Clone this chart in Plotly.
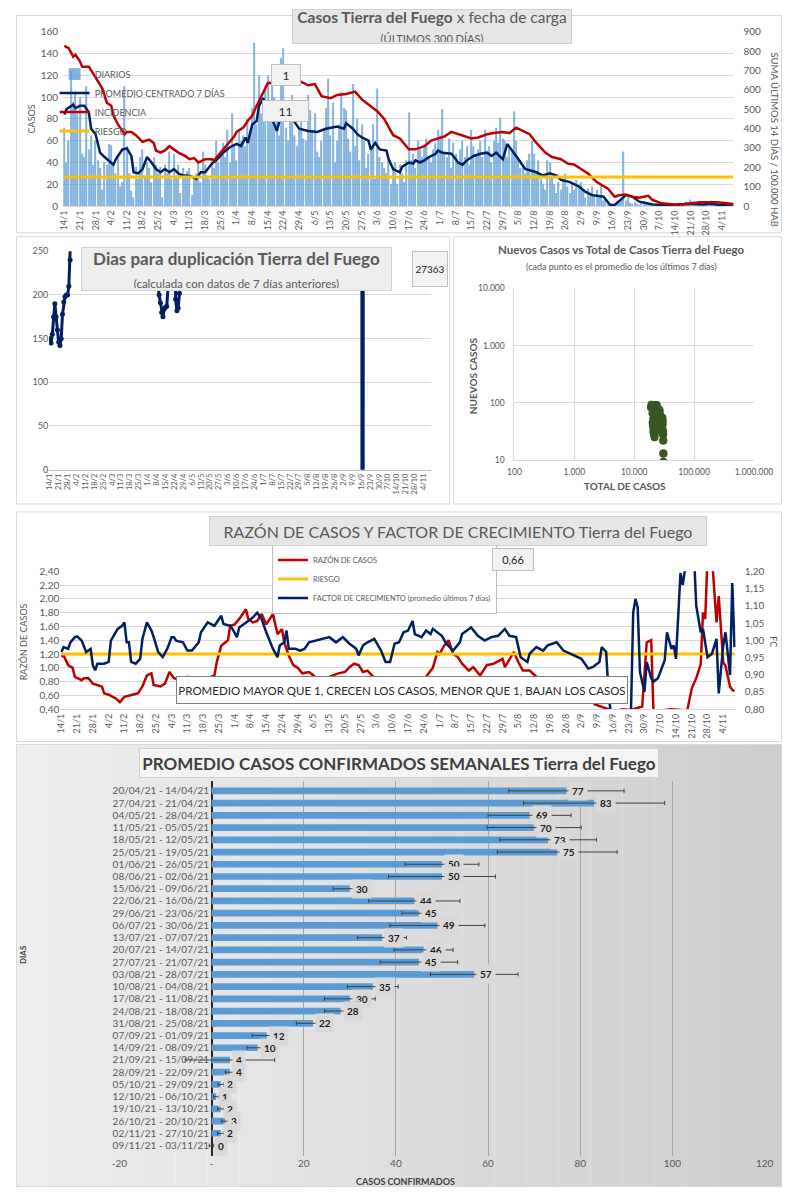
import plotly.graph_objects as go
from datetime import date, timedelta

# The page keeps the browser's 8px body margin, so the figure is 16px smaller
# than the 809x1200 window and every reference pixel is mapped with that offset.
OFF = 8
FW, FH = 809 - 2 * OFF, 1200 - 2 * OFF
def px(x): return (x - OFF) / FW
def py(y): return 1 - (y - OFF) / FH

INICIO = date(2021, 1, 14)
def fecha(d): return None if d is None else (INICIO + timedelta(days=d)).isoformat()

# ---------------- DATA ----------------
# Panel 1: daily cases (300 days from 14/1/2021)
diarios = [
    72, 40, 60, 124, 96, 105, 85,
    100, 48, 45, 110, 52, 65, 38,
    60, 42, 35, 15, 40, 38, 57,
    56, 38, 30, 45, 18, 22, 110,
    55, 30, 14, 8, 36, 25, 45,
    52, 28, 40, 35, 22, 45, 38,
    30, 36, 8, 38, 30, 50, 25,
    48, 28, 38, 12, 35, 28, 32,
    35, 10, 25, 30, 40, 22, 50,
    38, 28, 25, 44, 35, 60, 40,
    50, 58, 45, 70, 40, 85, 55,
    42, 70, 60, 65, 55, 80, 68,
    90, 150, 75, 120, 85, 100, 110,
    120, 80, 115, 100, 90, 65, 136,
    145, 72, 60, 88, 102, 65, 55,
    70, 85, 62, 60, 102, 88, 70,
    85, 50, 45, 60, 72, 90, 117,
    65, 95, 40, 60, 75, 105, 90,
    88, 62, 50, 112, 55, 80, 42,
    75, 60, 35, 48, 52, 75, 25,
    108, 45, 40, 35, 30, 42, 20,
    35, 40, 20, 38, 30, 22, 42,
    86, 42, 48, 35, 60, 52, 45,
    55, 62, 45, 40, 52, 58, 70,
    65, 89, 50, 45, 62, 35, 58,
    48, 40, 52, 60, 45, 55, 38,
    70, 55, 48, 52, 60, 45, 70,
    48, 55, 40, 60, 72, 58, 81,
    62, 60, 45, 55, 50, 87, 60,
    45, 35, 38, 30, 42, 48, 60,
    48, 30, 42, 25, 20, 15, 42,
    40, 28, 20, 12, 22, 15, 25,
    30, 18, 12, 22, 15, 24, 20,
    22, 14, 8, 16, 12, 18, 10,
    15, 8, 20, 5, 6, 3, 2,
    1, 0, 4, 3, 6, 50, 5,
    8, 3, 2, 4, 2, 1, 3,
    5, 2, 1, 3, 1, 0, 2,
    1, 0, 2, 1, 0, 1, 2,
    0, 1, 3, 2, 1, 4, 2,
    6, 3, 2, 1, 3, 2, 4,
    3, 2, 5, 2, 1, 2, 3,
    2, 1, 3, 2, 1, 0,
]

prom_dias = [0, 1, 4, 5, 7, 9, 11, 12, 14, 16, 18, 21, 22, 23, 24, 26, 28, 30, 31, 33, 35, 37, 39,
             41, 43, 45, 47, 49, 51, 53, 55, 57, 59, 61, 63, 66, 68, 71, 74, 77, 79, 81, 82, 84, 86,
             87, 89, 90, 92, 95, 97, 99, 102, 105, 109, 113, 117, 119, 122, 125, 126, 129, 131, 133,
             136, 137, 139, 141, 144, 145, 147, 150, 151, 154, 156, 157, 159, 161, 163, 166, 167, 169,
             172, 173, 175, 176, 178, 180, 183, 186, 189, 191, 193, 196, 198, 201, 203, 206, 208, 211,
             214, 217, 220, 222, 226, 230, 233, 236, 238, 241, 244, 246, 249, 251, 254, 257, 263, 267,
             273, 280, 285, 289, 293, 299]
prom_vals = [84, 89, 93, 90, 92, 92, 86, 71, 66, 49, 45, 40, 38, 43, 46, 52, 53, 46, 31, 30, 34, 45, 40,
             34, 31, 34, 31, 34, 30, 28, 28, 27, 25, 31, 31, 39, 42, 49, 54, 57, 55, 63, 58, 75, 78,
             92, 99, 92, 85, 69, 84, 88, 80, 71, 69, 68, 71, 72, 73, 71, 76, 71, 66, 63,
             60, 52, 58, 52, 51, 43, 34, 31, 36, 40, 39, 42, 40, 42, 45, 48, 51, 49,
             48, 48, 43, 40, 38, 42, 46, 48, 49, 46, 49, 43, 57, 49, 43, 34, 33, 31,
             28, 30, 28, 24, 22, 18, 13, 10, 9.4, 8.5, 1, 1, 6.4, 10, 8.5, 4, 1.5, 1,
             1, 2, 1.5, 2, 1, 1.5]

inc_dias = [0, 2, 4, 5, 7, 8, 11, 14, 17, 19, 21, 22, 24, 27, 28, 30, 32, 35, 38, 40, 41, 43, 45, 47,
            49, 51, 54, 56, 58, 60, 63, 66, 67, 70, 73, 76, 77, 80, 82, 84, 86, 89, 91, 94, 97, 101,
            105, 109, 112, 115, 119, 122, 126, 130, 133, 137, 140, 143, 147, 150, 154, 157, 161, 164,
            168, 170, 173, 176, 179, 182, 185, 189, 192, 196, 199, 202, 204, 208, 211, 215, 218, 222,
            225, 228, 231, 234, 238, 243, 246, 248, 251, 254, 257, 261, 263, 267, 273, 277, 284, 292, 299]
inc_vals = [827, 816, 771, 782, 748, 720, 720, 664, 608, 534, 518, 467, 422, 371, 383, 383, 366, 332, 343,
            326, 287, 276, 287, 309, 293, 276, 259, 242, 248, 225, 242, 242, 236, 276, 321, 360, 383, 405,
            439, 467, 518, 591, 636, 636, 664, 698, 647, 624, 630, 568, 557, 574, 579, 591, 551, 518, 489,
            450, 366, 349, 293, 293, 309, 338, 354, 360, 383, 371, 360, 349, 354, 371, 377, 383, 377, 405,
            394, 371, 326, 276, 253, 242, 219, 214, 191, 169, 124, 90, 48, 56, 60, 48, 43, 53, 31, 14, 8,
            10, 19, 19, 10]
RIESGO_INC = 150

# Panel 2: doubling days (None = break in the line)
dup_dias = [0, 1, 2, 3, 4, 5, 6, 7, 8, 9, 10, 11, 12, 13, 14, 15, 16, 17, None, 27, 28, 29, None,
            84, 85, 86, 87, 88, 89, 90, 91, 92, 93, 94, None, 98, 99, 100, 101, 102, 103, None,
            245, 246, 247]
dup_vals = [150, 145, 155, 175, 190, 175, 160, 146, 142, 150, 178, 192, 198, 200, 200, 210, 240, 290, None,
            300, 246, 275, None, 320, 215, 200, 191, 180, 175, 184, 186, 187, 208, 270, None,
            300, 195, 182, 185, 202, 280, None, 3000, -3000, 3000]
DUP_ULTIMO = "27363"

# Panel 3: new cases (7-day avg) vs total cases
tot_casos = [19000, 19400, 19630, 19900, 20150, 20300, 20450, 20600, 20780, 20900, 21050, 21200, 21330,
             21450, 21560, 21660, 21760, 21850, 21960, 22100, 22250, 22450, 22640, 22880, 23150, 23450,
             23770, 24050, 24350, 24600, 24850, 25080, 25330, 25580, 25820, 26080, 26330, 26560, 26790,
             26980, 27170, 27300, 27430, 27580, 27720, 27870, 28020, 28180, 28350, 28500, 28660, 28820,
             28980, 29150, 29320, 29490, 29660, 29810, 29960, 30070, 30180, 30280, 30370, 30450, 30540,
             30600, 30660, 30700, 30730]
nuevos = [84, 93, 92, 86, 66, 45, 40, 46, 53, 31, 34, 40, 34, 34, 34, 28, 27, 25, 31, 39, 49, 54, 57, 63,
          75, 92, 92, 69, 80, 80, 71, 69, 68, 71, 72, 73, 76, 71, 63, 60, 52, 51, 33, 36, 40, 42, 42, 45,
          49, 48, 43, 38, 46, 48, 49, 49, 55, 49, 43, 34, 31, 28, 29, 28, 22, 22, 13, 13, 9.4]

# Panel 4: case ratio and growth factor
raz_dias = [0, 1, 3, 5, 6, 9, 10, 12, 14, 16, 18, 19, 21, 24, 26, 28, 31, 34, 36, 38, 40, 41, 44, 46, 48,
            50, 53, 56, 58, 61, 63, 65, 68, 69, 71, 74, 75, 77, 79, 82, 83, 85, 87, 89, 91, 94, 96, 98,
            99, 101, 103, 105, 107, 110, 112, 114, 116, 119, 123, 126, 128, 130, 132, 134, 136, 139, 142,
            145, 147, 150, 154, 157, 159, 162, 165, 167, 168, 170, 172, 174, 176, 178, 181, 183, 186, 189,
            192, 196, 197, 201, 203, 205, 208, 211, 213, 215, 218, 223, 226, 229, 233, 237, 243, 246, 249,
            253, 258, 260, 262, 263, 271, 278, 280, 282, 284, 285, 286, 287, 289, 291, 292, 294, 295, 297,
            298, 299]
raz_vals = [1.16, 1.18, 1.04, 1.0, 0.87, 0.82, 0.85, 0.85, 0.77, 0.75, 0.73, 0.63, 0.61, 0.56, 0.50, 0.58,
            0.60, 0.63, 0.73, 0.89, 0.92, 0.75, 0.73, 0.77, 0.94, 0.85, 0.82, 0.87, 0.85, 0.85, 0.72, 0.85,
            0.89, 1.08, 1.32, 1.40, 1.61, 1.63, 1.71, 1.85, 1.71, 1.66, 1.68, 1.78, 1.63, 1.78, 1.49, 1.56,
            1.37, 1.18, 1.04, 1.0, 0.92, 0.94, 0.89, 0.80, 0.82, 0.87, 0.92, 0.94, 1.01, 1.06, 1.04, 0.94,
            0.96, 0.85, 0.75, 0.68, 0.65, 0.61, 0.62, 0.61, 0.70, 0.87, 1.0, 1.23, 1.20, 1.32, 1.40, 1.20,
            1.16, 1.06, 0.96, 1.01, 0.89, 1.04, 1.06, 1.13, 1.01, 1.23, 1.08, 0.96, 0.96, 0.87, 0.85, 0.68,
            0.63, 0.68, 0.77, 0.75, 0.65, 0.47, 0.40, 0.36, 0.40, 0.39, 0.44, 1.37, 1.40, 0.37, 0.40, 0.38,
            0.70, 0.85, 1.05, 1.80, 1.71, 2.60, 2.60, 1.66, 2.04, 1.08, 1.03, 0.73, 0.68, 0.66]
RIESGO_RAZON = 1.2
RAZON_ULTIMA = "0,66"

fc_dias = [0, 1, 3, 4, 6, 7, 9, 10, 11, 13, 14, 15, 16, 19, 21, 22, 24, 25, 27, 28, 29, 30, 31, 33, 35,
           36, 38, 40, 41, 43, 45, 47, 49, 50, 51, 54, 56, 58, 61, 62, 65, 68, 71, 72, 75, 76, 78, 79,
           83, 85, 87, 89, 91, 94, 96, 97, 99, 100, 101, 104, 106, 108, 110, 113, 116, 119, 122, 125,
           128, 131, 132, 134, 136, 139, 142, 144, 146, 148, 150, 152, 154, 156, 157, 160, 162, 164, 165,
           169, 171, 174, 177, 178, 182, 185, 188, 191, 194, 197, 199, 202, 204, 207, 208, 211, 214, 216,
           220, 223, 226, 231, 234, 236, 239, 240, 242, 243, 244, 247, 250, 253, 254, 255, 256, 257, 259,
           260, 262, 263, 265, 268, 269, 271, 272, 273, 275, 276, 278, 281, 282, 284, 285, 287, 289, 291,
           292, 294, 295, 297, 298, 299]
fc_vals = [0.966, 0.98, 0.975, 0.994, 1.009, 1.011, 0.999, 0.98, 0.966, 0.975, 0.927, 0.913, 0.932, 0.932,
           0.937, 0.999, 1.023, 1.033, 1.042, 1.052, 0.994, 0.994, 0.937, 0.932, 0.946, 1.004, 1.052, 1.028,
           1.009, 0.966, 0.951, 0.975, 1.009, 1.009, 0.999, 0.994, 0.97, 0.97, 0.994, 1.023, 1.052, 1.042,
           1.071, 1.047, 1.042, 1.033, 1.009, 1.037, 1.056, 1.066, 1.08, 1.061, 1.023, 0.975, 0.951, 0.985,
           0.994, 1.028, 0.975, 0.975, 0.97, 0.975, 0.994, 0.999, 1.004, 1.009, 0.994, 1.009, 0.99, 0.975,
           0.956, 0.985, 0.994, 1.004, 0.97, 0.937, 0.937, 0.99, 0.994, 1.023, 1.028, 1.056, 1.018, 1.009,
           1.028, 1.018, 1.033, 1.013, 0.99, 0.97, 0.994, 1.018, 1.037, 1.013, 0.999, 1.009, 1.013, 1.033,
           1.013, 1.009, 0.951, 0.937, 0.961, 0.98, 0.97, 0.985, 0.994, 0.97, 0.961, 0.946, 0.918, 0.922,
           0.937, 0.98, 0.966, 0.85, 0.79, 0.72, 0.72, 0.79, 1.08, 1.12, 1.095, 0.908, 0.85, 0.937, 0.89,
           0.88, 0.89, 0.942, 1.023, 0.975, 0.985, 0.946, 1.195, 1.16, 1.25, 1.25, 1.10, 1.023, 1.033,
           0.951, 0.961, 1.004, 0.846, 0.985, 1.023, 0.899, 1.166, 0.98]

# Panel 5: weekly averages
semanas = ["20/04/21 - 14/04/21", "27/04/21 - 21/04/21", "04/05/21 - 28/04/21", "11/05/21 - 05/05/21",
           "18/05/21 - 12/05/21", "25/05/21 - 19/05/21", "01/06/21 - 26/05/21", "08/06/21 - 02/06/21",
           "15/06/21 - 09/06/21", "22/06/21 - 16/06/21", "29/06/21 - 23/06/21", "06/07/21 - 30/06/21",
           "13/07/21 - 07/07/21", "20/07/21 - 14/07/21", "27/07/21 - 21/07/21", "03/08/21 - 28/07/21",
           "10/08/21 - 04/08/21", "17/08/21 - 11/08/21", "24/08/21 - 18/08/21", "31/08/21 - 25/08/21",
           "07/09/21 - 01/09/21", "14/09/21 - 08/09/21", "21/09/21 - 15/09/21", "28/09/21 - 22/09/21",
           "05/10/21 - 29/09/21", "12/10/21 - 06/10/21", "19/10/21 - 13/10/21", "26/10/21 - 20/10/21",
           "02/11/21 - 27/10/21", "09/11/21 - 03/11/21"]
prom_sem = [77, 83, 69, 70, 73, 75, 50, 50, 30, 44, 45, 49, 37, 46, 45, 57, 35, 30, 28, 22, 12, 10, 4, 4,
            2, 1, 2, 3, 2, 0]
desvio_sem = [12.5, 15.3, 9, 10.2, 10.5, 13, 8, 11.6, 3.6, 9.9, 3.7, 10.3, 5.3, 6.4, 8.4, 9.5, 5.5, 5.5,
              3.5, 3.6, 3.2, 2.3, 9.7, 1, 0.6, 0.6, 0.7, 0.8, 0.7, 0.5]
x7_ticks = [-20, 0, 20, 40, 60, 80, 100, 120]
x7_text = ["-20", "-", "20", "40", "60", "80", "100", "120"]

# ---------------- STYLE ----------------
NAVY = "#002060"; RED = "#c00000"; YELLOW = "#ffc000"; BLUE = "#5b9bd5"
GREEN = "#375623"; GRID = "#d9d9d9"; TXT = "#595959"; FONT = "Lato"
DAY_MS = 86400000

fig = go.Figure()

# Panel 1
fig.add_trace(go.Bar(x=[fecha(i) for i in range(len(diarios))], y=diarios, name="DIARIOS",
                     marker=dict(color=BLUE, line=dict(width=0)), opacity=0.75,
                     xaxis="x", yaxis="y", legend="legend"))
fig.add_trace(go.Scatter(x=[fecha(d) for d in prom_dias], y=prom_vals, name="PROMEDIO CENTRADO 7 DÍAS",
                         mode="lines", line=dict(color=NAVY, width=2.5), xaxis="x", yaxis="y", legend="legend"))
fig.add_trace(go.Scatter(x=[fecha(d) for d in inc_dias], y=inc_vals, name="INCIDENCIA",
                         mode="lines", line=dict(color=RED, width=2.5), xaxis="x", yaxis="y2", legend="legend"))
fig.add_trace(go.Scatter(x=[fecha(0), fecha(len(diarios) - 1)], y=[RIESGO_INC, RIESGO_INC], name="RIESGO",
                         mode="lines", line=dict(color=YELLOW, width=3), xaxis="x", yaxis="y2", legend="legend"))

# Panel 2
fig.add_trace(go.Scatter(x=[fecha(d) for d in dup_dias], y=dup_vals, mode="lines+markers",
                         line=dict(color=NAVY, width=3), marker=dict(color=NAVY, size=5),
                         connectgaps=False, xaxis="x3", yaxis="y3", showlegend=False))

# Panel 3
fig.add_trace(go.Scatter(x=tot_casos, y=nuevos, mode="markers",
                         marker=dict(color=GREEN, size=8, line=dict(width=0)),
                         xaxis="x4", yaxis="y4", showlegend=False))

# Panel 4
fig.add_trace(go.Scatter(x=[fecha(d) for d in raz_dias], y=raz_vals, name="RAZÓN DE CASOS", mode="lines",
                         line=dict(color=RED, width=2.5), xaxis="x5", yaxis="y5", legend="legend2"))
fig.add_trace(go.Scatter(x=[fecha(0), fecha(len(diarios) - 1)], y=[RIESGO_RAZON, RIESGO_RAZON], name="RIESGO",
                         mode="lines", line=dict(color=YELLOW, width=3), xaxis="x5", yaxis="y5", legend="legend2"))
fig.add_trace(go.Scatter(x=[fecha(d) for d in fc_dias], y=fc_vals,
                         name="FACTOR DE CRECIMIENTO (promedio últimos 7 días)", mode="lines",
                         line=dict(color=NAVY, width=2.5), xaxis="x5", yaxis="y6", legend="legend2"))

# Panel 5
fig.add_trace(go.Bar(x=prom_sem, y=semanas, orientation="h", marker=dict(color=BLUE, line=dict(width=0)),
                     error_x=dict(type="data", array=desvio_sem, visible=True, color="#404040",
                                  thickness=1, width=2),
                     xaxis="x7", yaxis="y7", showlegend=False))

date_ax = dict(type="date", range=["2021-01-13 12:00", "2021-11-09 12:00"], tick0="2021-01-14",
               dtick=7 * DAY_MS, tickformat="%-d/%-m", tickangle=-90, showgrid=False,
               showline=True, linecolor=GRID, ticks="", zeroline=False)

shapes = []
n = 24
x_lo, x_hi = OFF, 809 - OFF
for i in range(n):
    c = int(238 - (238 - 206) * i / (n - 1))
    shapes.append(dict(type="rect", xref="paper", yref="paper",
                       x0=px(x_lo + (x_hi - x_lo) * i / n), x1=px(x_lo + (x_hi - x_lo) * (i + 1) / n),
                       y0=py(1200 - OFF), y1=py(745), fillcolor=f"rgb({c},{c},{c})", line=dict(width=0),
                       layer="below"))
for (x0, y0, x1, y1) in [(8.5, 8.5, 800.5, 228), (8.5, 232, 457, 502), (461, 232, 800.5, 502),
                         (8.5, 510, 800.5, 742), (8.5, 745, 800.5, 1191.5)]:
    shapes.append(dict(type="rect", xref="paper", yref="paper", x0=px(x0), x1=px(x1), y0=py(y1), y1=py(y0),
                       line=dict(color=GRID, width=1), fillcolor="rgba(0,0,0,0)", layer="below"))

def box(x, y, text, size, w=None, h=None, bg="#eeeeee", border="#bfbfbf", color=TXT, angle=0, pad=2):
    d = dict(xref="paper", yref="paper", x=px(x), y=py(y), text=text, showarrow=False,
             font=dict(size=size, color=color, family=FONT), textangle=angle,
             xanchor="center", yanchor="middle", borderpad=pad)
    if bg:
        d.update(bgcolor=bg, bordercolor=border, borderwidth=1)
    if w: d["width"] = w
    if h: d["height"] = h
    return d

ann = [
    box(439, 20, "<b>Casos Tierra del Fuego</b> x fecha de carga<br><span style='font-size:11px'>(ÚLTIMOS 300 DÍAS)</span>",
        15.5, w=276, h=31, bg="#e7e6e6", border="#d0d0d0", pad=1),
    box(287, 69, "1", 12, w=24, h=16, bg="#f2f2f2", color="#262626"),
    box(286.5, 105, "11", 12, w=41, h=16, bg="#f2f2f2", color="#262626"),
    box(24, 113, "CASOS", 9, bg=None, angle=-90),
    box(793, 134, "SUMA ÚLTIMOS 14 DÍAS / 100.000 HAB", 9.5, bg=None, angle=90),
    box(236.5, 265, "<b>Dias para duplicación Tierra del Fuego</b><br><span style='font-size:11.5px'>(calculada con datos de 7 días anteriores)</span>",
        17, w=305, h=38, bg="#eeeeee", border="#d0d0d0"),
    box(436.5, 265, DUP_ULTIMO, 10, w=30, h=30, bg="#f2f2f2", color="#262626"),
    box(635, 245, "<b>Nuevos Casos vs Total de Casos Tierra del Fuego</b>", 11.5, bg=None),
    box(635, 262, "(cada punto es el promedio de los últimos 7 días)", 9, bg=None),
    box(481, 372, "<b>NUEVOS CASOS</b>", 10, bg=None, angle=-90),
    box(638, 484, "<b>TOTAL DE CASOS</b>", 10, bg=None),
    box(466, 529, "RAZÓN DE CASOS Y FACTOR DE CRECIMIENTO Tierra del Fuego", 16, w=492, h=24,
        bg="#e7e6e6", border="#d0d0d0"),
    box(523, 558, RAZON_ULTIMA, 11, w=36, h=17, bg="#f2f2f2", color="#262626"),
    box(408, 690, "PROMEDIO MAYOR QUE 1, CRECEN LOS CASOS, MENOR QUE 1, BAJAN LOS CASOS", 11.5, w=446, h=22,
        bg="white", border="#7f7f7f", color="#262626"),
    box(16, 641, "RAZÓN DE CASOS", 9, bg=None, angle=-90),
    box(792, 641, "FC", 9, bg=None, angle=90),
    box(405, 764, "<b>PROMEDIO CASOS CONFIRMADOS SEMANALES Tierra del Fuego</b>", 17, w=514, h=24,
        bg="#f4f4f4", border="#d0d0d0", color="#404040"),
    box(16, 957, "<b>DIAS</b>", 8, bg=None, angle=-90, color="#404040"),
    box(411, 1186, "<b>CASOS CONFIRMADOS</b>", 9, bg=None, color="#404040"),
]
for s, v in zip(semanas, prom_sem):
    ann.append(dict(xref="x7", yref="y7", x=v, y=s, text=f"<b>{v}</b>", showarrow=False, xanchor="left",
                    yanchor="middle", xshift=2, bgcolor="#d9d9d9", borderpad=3,
                    font=dict(size=10, color="#1a1a1a", family=FONT)))

fig.update_layout(
    width=FW, height=FH, autosize=False, margin=dict(l=0, r=0, t=0, b=0),
    paper_bgcolor="white", plot_bgcolor="rgba(0,0,0,0)",
    font=dict(family=FONT, color=TXT, size=10),
    separators=",.", bargap=0.45,
    shapes=shapes, annotations=ann,
    legend=dict(x=px(48), y=py(53), xanchor="left", yanchor="top", bgcolor="rgba(0,0,0,0)",
                font=dict(size=9, color=TXT), itemwidth=30, traceorder="normal"),
    legend2=dict(x=px(273), y=py(543), xanchor="left", yanchor="top", bgcolor="white",
                 bordercolor="#bfbfbf", borderwidth=1, font=dict(size=7.5, color=TXT), itemwidth=30,
                 traceorder="normal"),
    xaxis=dict(date_ax, domain=[px(56.8), px(751.7)], anchor="y", tickfont=dict(size=9)),
    yaxis=dict(domain=[py(201), py(25)], range=[0, 160], dtick=20, gridcolor=GRID, zeroline=False,
               anchor="x", tickfont=dict(size=10), ticklabelstandoff=4),
    yaxis2=dict(overlaying="y", side="right", range=[0, 900], dtick=100, showgrid=False, zeroline=False,
                anchor="x", tickfont=dict(size=10), ticklabelstandoff=8),
    xaxis3=dict(date_ax, domain=[px(42.3), px(437.2)], anchor="y3", tickfont=dict(size=7.5),
                linecolor="#bfbfbf"),
    yaxis3=dict(domain=[py(467.3), py(246.7)], range=[0, 250], dtick=50, gridcolor=GRID, zeroline=False,
                anchor="x3", tickfont=dict(size=9)),
    xaxis4=dict(type="log", range=[2, 6], domain=[px(524), px(772)], anchor="y4",
                tickvals=[100, 1000, 10000, 100000, 1000000],
                ticktext=["100", "1.000", "10.000", "100.000", "1.000.000"],
                gridcolor=GRID, showline=True, linecolor=GRID, tickfont=dict(size=8.5), zeroline=False,
                ticklabelstandoff=4),
    yaxis4=dict(type="log", range=[1, 4], domain=[py(457.7), py(284.3)], anchor="x4",
                tickvals=[10, 100, 1000, 10000], ticktext=["10", "100", "1.000", "10.000"],
                gridcolor=GRID, showline=True, linecolor=GRID, tickfont=dict(size=8.5), zeroline=False,
                ticklabelstandoff=7),
    xaxis5=dict(date_ax, domain=[px(53.8), px(753)], anchor="y5", tickfont=dict(size=9)),
    yaxis5=dict(domain=[py(709.3), py(570)], range=[0.4, 2.4], dtick=0.2, tickformat=".2f",
                gridcolor=GRID, zeroline=False, anchor="x5", tickfont=dict(size=10)),
    yaxis6=dict(overlaying="y5", side="right", range=[0.8, 1.2], dtick=0.05, tickformat=".2f",
                showgrid=False, zeroline=False, anchor="x5", tickfont=dict(size=10), ticklabelstandoff=8),
    xaxis7=dict(range=[-20, 120], domain=[px(115), px(783)], anchor="y7", tickvals=x7_ticks,
                ticktext=x7_text, gridcolor="#a6a6a6", zeroline=True, zerolinecolor="#262626",
                zerolinewidth=1.5, tickfont=dict(size=10), showline=False),
    yaxis7=dict(type="category", domain=[py(1160.3), py(781.7)], anchor="free", position=px(210),
                autorange="reversed", showgrid=False, showline=False, tickfont=dict(size=10),
                ticklabelstandoff=2),
)

fig.write_html("out.html", config={"responsive": False, "displayModeBar": False})
